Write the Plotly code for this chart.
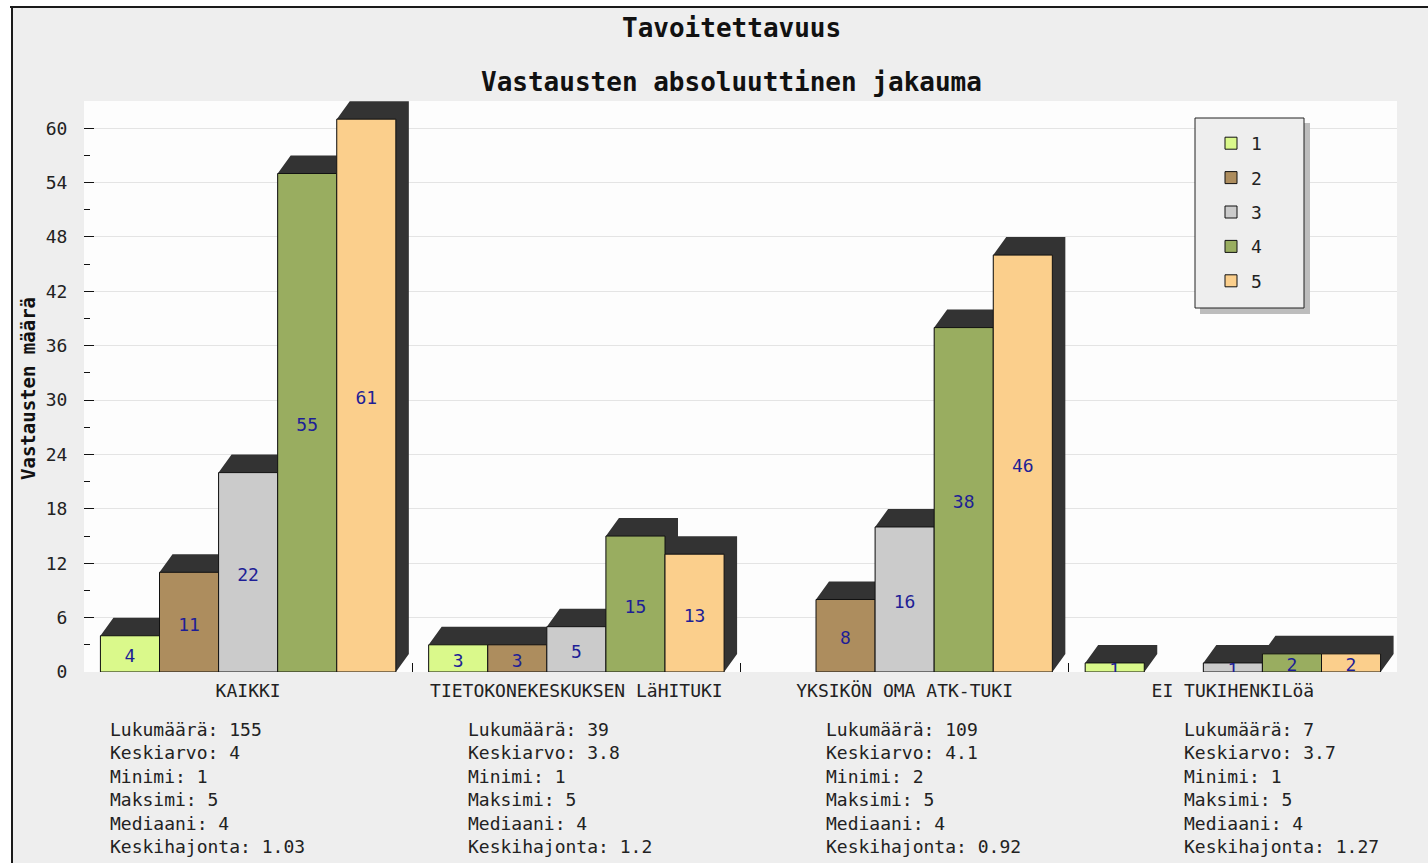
import plotly.graph_objects as go

# ---- data -------------------------------------------------------------
categories = ["KAIKKI", "TIETOKONEKESKUKSEN LäHITUKI", "YKSIKÖN OMA ATK-TUKI", "EI TUKIHENKILöä"]
series_names = ["1", "2", "3", "4", "5"]
counts_1 = [4, 3, 0, 1]
counts_2 = [11, 3, 8, 0]
counts_3 = [22, 5, 16, 1]
counts_4 = [55, 15, 38, 2]
counts_5 = [61, 13, 46, 2]
series_values = [counts_1, counts_2, counts_3, counts_4, counts_5]
series_colors = ["#DAF98B", "#AD8D5E", "#CBCBCB", "#99AD60", "#FBCF8C"]

stat_labels = ["Lukumäärä", "Keskiarvo", "Minimi", "Maksimi", "Mediaani", "Keskihajonta"]
stats_kaikki = ["155", "4", "1", "5", "4", "1.03"]
stats_lahituki = ["39", "3.8", "1", "5", "4", "1.2"]
stats_oma = ["109", "4.1", "2", "5", "4", "0.92"]
stats_ei = ["7", "3.7", "1", "5", "4", "1.27"]
stats_columns = [stats_kaikki, stats_lahituki, stats_oma, stats_ei]

# ---- geometry ---------------------------------------------------------
W, H = 1428, 863
M_L, M_R, M_T, M_B = 84, 31, 101, 191
PLOT_W = W - M_L - M_R
PLOT_H = H - M_T - M_B
Y_MAX = 63
N_CAT = len(categories)
N_SER = len(series_names)
GROUP_W = 0.9
BAR_W = GROUP_W / N_SER

# 3D shadow offset of each bar, in pixels
SHADOW_DX, SHADOW_DY = 13, 18
dx = SHADOW_DX * N_CAT / PLOT_W
dy = SHADOW_DY * Y_MAX / PLOT_H
# value labels sit a few pixels below the exact bar centre
LABEL_NUDGE = 4 * Y_MAX / PLOT_H

MONO = "DejaVu Sans Mono"


def px_x(px):
    return (px - M_L) / PLOT_W


def px_y(py):
    return (H - M_B - py) / PLOT_H


def bar_left(i, j):
    return i - GROUP_W / 2 + j * BAR_W


fig = go.Figure()

# shadows (drawn underneath the bars)
sx, sy = [], []
for j, vals in enumerate(series_values):
    for i, v in enumerate(vals):
        if not v:
            continue
        x0 = bar_left(i, j)
        x1 = x0 + BAR_W
        sx += [x0, x0, x0 + dx, x1 + dx, x1 + dx, x1, x0, None]
        sy += [0, v, v + dy, v + dy, dy, 0, 0, None]
fig.add_trace(go.Scatter(
    x=sx, y=sy, mode="lines", fill="toself", fillcolor="#333333",
    line=dict(width=0, color="#333333"), hoverinfo="skip",
    showlegend=False, zorder=0,
))

# bars (empty categories are left out so no outline is drawn on the axis)
for j, (name, vals, col) in enumerate(zip(series_names, series_values, series_colors)):
    fig.add_trace(go.Bar(
        x=list(range(N_CAT)), y=[v if v else None for v in vals],
        name=name, legendgroup=name,
        marker=dict(color=col, line=dict(color="#111111", width=1)),
        zorder=1,
    ))

# value labels in the middle of each bar
for j, vals in enumerate(series_values):
    xs = [bar_left(i, j) + BAR_W / 2 for i in range(N_CAT)]
    ys = [v / 2 - LABEL_NUDGE for v in vals]
    txt = [str(v) if v else "" for v in vals]
    fig.add_trace(go.Scatter(
        x=xs, y=ys, mode="text", text=txt, textposition="middle center",
        textfont=dict(family=MONO, size=18, color="#1E1E96"),
        hoverinfo="skip", showlegend=False, cliponaxis=False, zorder=2,
    ))

# ---- decorations ------------------------------------------------------
shapes = [
    # white margin round the framed chart, and the frame lines
    dict(type="rect", xref="paper", yref="paper", x0=px_x(-5), x1=px_x(W + 5),
         y0=px_y(-5), y1=px_y(6), fillcolor="white", line=dict(width=0), layer="above"),
    dict(type="rect", xref="paper", yref="paper", x0=px_x(-5), x1=px_x(11),
         y0=px_y(-5), y1=px_y(H + 5), fillcolor="white", line=dict(width=0), layer="above"),
    dict(type="line", xref="paper", yref="paper", x0=px_x(10), x1=px_x(W + 5),
         y0=px_y(7), y1=px_y(7), line=dict(color="#1A1A1A", width=2)),
    dict(type="line", xref="paper", yref="paper", x0=px_x(12), x1=px_x(12),
         y0=px_y(6), y1=px_y(H + 5), line=dict(color="#1A1A1A", width=2)),
    # legend box with its drop shadow
    dict(type="rect", xref="paper", yref="paper", x0=px_x(1200), x1=px_x(1310),
         y0=px_y(314), y1=px_y(123), fillcolor="#BDBDBD", line=dict(width=0), layer="above"),
    dict(type="rect", xref="paper", yref="paper", x0=px_x(1195), x1=px_x(1304),
         y0=px_y(308), y1=px_y(118), fillcolor="#EEEEEE",
         line=dict(color="#222222", width=1), layer="above"),
]

annotations = [
    dict(text="Tavoitettavuus", xref="paper", yref="paper", x=px_x(731), y=px_y(28),
         xanchor="center", yanchor="middle", showarrow=False,
         font=dict(family=MONO, size=26, color="#111111", weight="bold")),
    dict(text="Vastausten absoluuttinen jakauma", xref="paper", yref="paper",
         x=px_x(731), y=px_y(82), xanchor="center", yanchor="middle", showarrow=False,
         font=dict(family=MONO, size=26, color="#111111", weight="bold")),
    dict(text="Vastausten määrä", xref="paper", yref="paper", x=px_x(28), y=px_y(389),
         xanchor="center", yanchor="middle", textangle=-90, showarrow=False,
         font=dict(family=MONO, size=19, color="#111111", weight="bold")),
]
for k, col in enumerate(stats_columns):
    lines = [f"{lab}: {val}" for lab, val in zip(stat_labels, col)]
    annotations.append(dict(
        text="<br>".join(lines), xref="paper", yref="paper",
        x=px_x(108 + 358 * k), y=px_y(717), xanchor="left", yanchor="top",
        align="left", showarrow=False,
        font=dict(family=MONO, size=18, color="#222222"),
    ))

fig.update_layout(
    width=W, height=H,
    margin=dict(l=M_L, r=M_R, t=M_T, b=M_B, pad=0),
    paper_bgcolor="#EEEEEE", plot_bgcolor="#FDFDFD",
    barmode="group", bargap=1 - GROUP_W, bargroupgap=0,
    showlegend=True,
    legend=dict(
        x=px_x(1211), y=px_y(125), xanchor="left", yanchor="top",
        bgcolor="rgba(0,0,0,0)", borderwidth=0, tracegroupgap=8,
        font=dict(family=MONO, size=18, color="#222222"),
        traceorder="grouped",
    ),
    shapes=shapes,
    annotations=annotations,
    xaxis=dict(
        range=[-0.5, N_CAT - 0.5], tickmode="array",
        tickvals=list(range(N_CAT)), ticktext=categories, ticks="",
        showline=True, linecolor="#111111", linewidth=1, showgrid=False, zeroline=False,
        tickfont=dict(family=MONO, size=18, color="#222222"),
        ticklabelstandoff=2,
        minor=dict(tickmode="array", tickvals=[i + 0.5 for i in range(N_CAT - 1)],
                   ticks="inside", ticklen=9, tickcolor="#111111", showgrid=False),
        fixedrange=True,
    ),
    yaxis=dict(
        range=[0, Y_MAX], tickmode="linear", tick0=0, dtick=6,
        ticks="inside", ticklen=10, tickcolor="#111111",
        showline=True, linecolor="#111111", linewidth=1,
        showgrid=True, gridcolor="#E4E4E4", gridwidth=1, zeroline=False,
        tickfont=dict(family=MONO, size=18, color="#222222"),
        ticklabelstandoff=12,
        minor=dict(dtick=3, tick0=0, ticks="inside", ticklen=6, tickcolor="#111111",
                   showgrid=False),
        fixedrange=True,
    ),
)

fig.write_html("out.html")
